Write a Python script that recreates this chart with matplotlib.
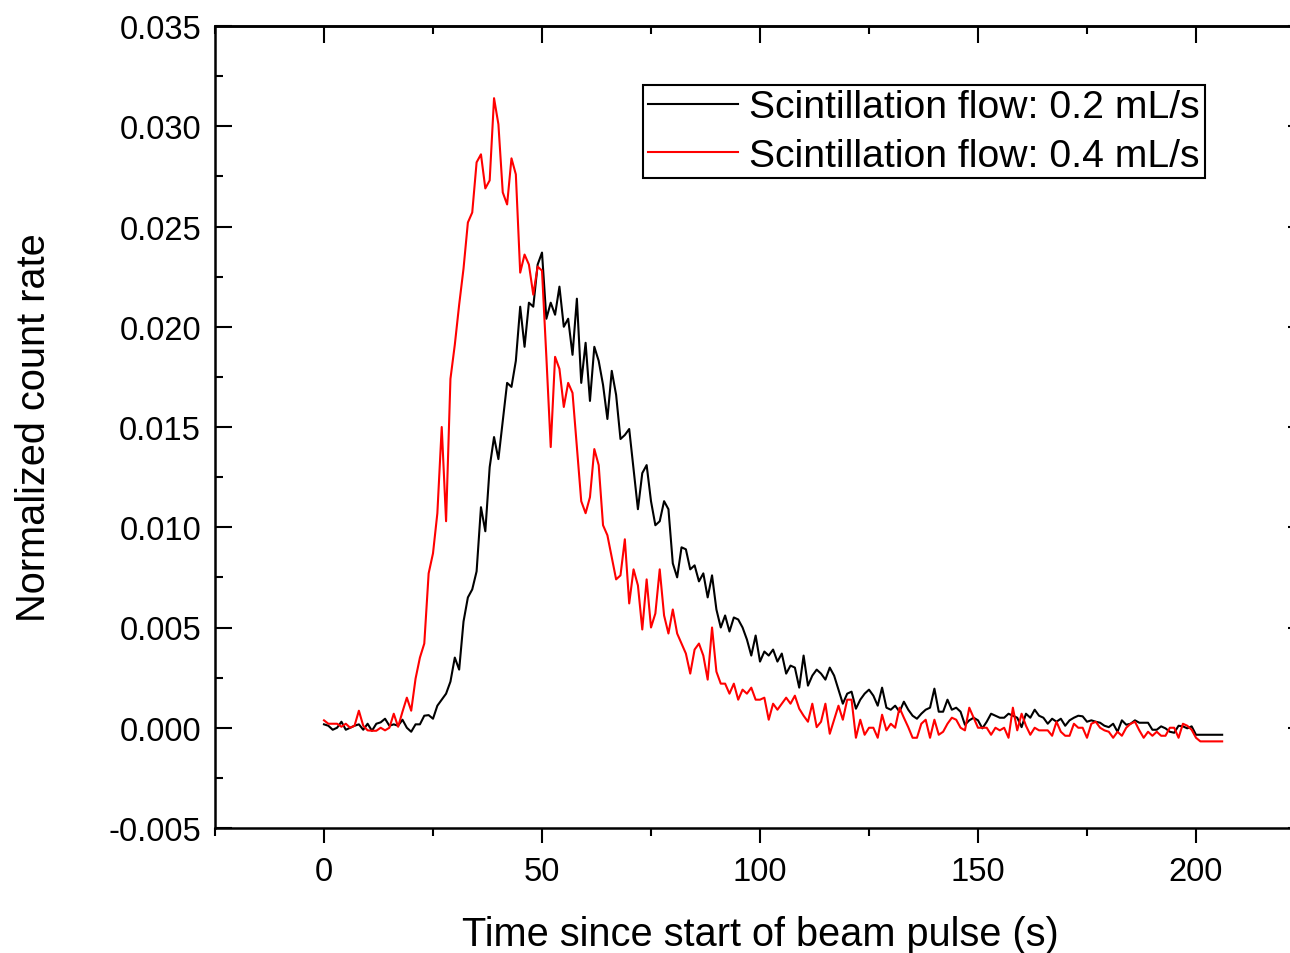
import numpy as np
import matplotlib
matplotlib.use('Agg')
import matplotlib.pyplot as plt
from matplotlib.ticker import MultipleLocator, FormatStrFormatter

plt.rcParams['font.family'] = ['Liberation Sans', 'DejaVu Sans']
plt.rcParams['axes.unicode_minus'] = False

# time axis (s), 1 s steps
time_s = list(range(0, 207))

# scintillation flow 0.2 mL/s (black)
rate_02 = [
    0.00017, 0.0001, -0.0001, 0.0, 0.0003, -0.0001, 0.0, 0.0001, 0.00017, -0.0001,
    0.0002, -0.00015, 0.0002, 0.00027, 0.00045, 0.0001, 0.00017, 0.0001, 0.0004, 0.0,
    -0.0002, 0.00017, 0.00017, 0.0006, 0.00063, 0.00045, 0.0011, 0.0014, 0.0017, 0.0023,
    0.0035, 0.0029, 0.0053, 0.0065, 0.0069, 0.0078, 0.011, 0.0098, 0.013, 0.0145,
    0.0134, 0.0153, 0.0172, 0.017, 0.0183, 0.021, 0.019, 0.0212, 0.021, 0.0231,
    0.0237, 0.0204, 0.0212, 0.0206, 0.022, 0.02, 0.0204, 0.0186, 0.0214, 0.0172,
    0.0192, 0.0163, 0.019, 0.0183, 0.0171, 0.0154, 0.0178, 0.0166, 0.0144, 0.0146,
    0.0149, 0.0129, 0.0109, 0.0127, 0.0131, 0.0113, 0.0101, 0.0103, 0.0113, 0.0109,
    0.0082, 0.0075, 0.009, 0.0089, 0.0079, 0.0081, 0.0073, 0.0077, 0.0065, 0.0076,
    0.0059, 0.005, 0.0056, 0.0048, 0.0055, 0.0054, 0.005, 0.0044, 0.0036, 0.0046,
    0.0033, 0.0038, 0.0036, 0.0039, 0.0033, 0.0037, 0.0027, 0.0031, 0.003, 0.002,
    0.0036, 0.0021, 0.0026, 0.0029, 0.0027, 0.0024, 0.003, 0.0026, 0.0019, 0.0012,
    0.0017, 0.0018, 0.00095, 0.0014, 0.0017, 0.0019, 0.0016, 0.0011, 0.002, 0.001,
    0.0009, 0.0011, 0.0008, 0.0013, 0.0009, 0.0006, 0.00045, 0.0007, 0.0009, 0.001,
    0.00195, 0.0008, 0.0008, 0.0014, 0.0009, 0.001, 0.0008, 0.00015, 0.00037, 0.0005,
    0.00037, -0.00003, 0.0003, 0.0007, 0.0006, 0.0005, 0.0005, 0.0007, 0.0006, 0.0005,
    0.00003, 0.0007, 0.0005, 0.0009, 0.0006, 0.0005, 0.0002, 0.00045, 0.0003, 0.00045,
    0.0001, 0.00037, 0.0005, 0.0006, 0.00057, 0.0003, 0.00037, 0.0003, 0.00025, 0.0001,
    0.00003, 0.0002, -0.0002, 0.00037, 0.00015, 0.0002, 0.00037, 0.00025, 0.00025, 0.00025,
    -0.0001, -0.0001, 0.00007, -0.00003, -0.0002, -0.00025, 0.0001, 0.00007, -0.00003, 0.00007,
    -0.00035, -0.00035, -0.00035, -0.00035, -0.00035, -0.00035, -0.00035,
]

# scintillation flow 0.4 mL/s (red)
rate_04 = [
    0.00037, 0.0002, 0.0002, 0.0002, 0.00005, 0.0002, 0.0, 0.0001, 0.00085, 0.0001,
    -0.00013, -0.00015, -0.00015, 0.0, -0.00013, 0.0, 0.0007, 0.00005, 0.0008, 0.0015,
    0.00085, 0.00245, 0.0035, 0.0042, 0.0077, 0.0087, 0.0107, 0.015, 0.0103, 0.0174,
    0.0191, 0.0211, 0.0229, 0.0252, 0.0257, 0.0282, 0.0286, 0.0269, 0.0273, 0.0314,
    0.0301, 0.0267, 0.0261, 0.0284, 0.0276, 0.0227, 0.0236, 0.0231, 0.0216, 0.023,
    0.0228, 0.0185, 0.014, 0.0185, 0.0179, 0.016, 0.0172, 0.0167, 0.014, 0.0113,
    0.0107, 0.0115, 0.0139, 0.0131, 0.0101, 0.0096, 0.0085, 0.0074, 0.0076, 0.0094,
    0.0062, 0.0079, 0.0071, 0.0049, 0.0074, 0.005, 0.0057, 0.0079, 0.0056, 0.0047,
    0.0059, 0.0047, 0.0042, 0.0037, 0.0027, 0.0039, 0.0042, 0.0036, 0.0024, 0.005,
    0.0028, 0.0022, 0.0022, 0.0017, 0.0022, 0.0014, 0.0019, 0.0017, 0.002, 0.0014,
    0.0014, 0.0015, 0.0004, 0.0012, 0.0009, 0.0012, 0.0015, 0.0012, 0.0016, 0.00095,
    0.0006, 0.0003, 0.0012, 0.00003, 0.0003, 0.0012, -0.0003, 0.0004, 0.0011, 0.0004,
    0.0014, 0.0014, -0.0005, 0.0004, -0.00035, 0.0, 0.0, -0.0005, 0.00065, -0.00013,
    0.0002, 0.0, 0.001, 0.0005, 0.00003, -0.0005, -0.0005, 0.0002, 0.0004, -0.0005,
    0.0004, -0.00035, -0.0002, 0.0002, 0.0005, 0.0004, 0.0, -0.00013, 0.001, 0.0005,
    0.0, 0.0, 0.0, -0.00035, 0.0, -0.00013, 0.0, -0.0005, 0.001, -0.00013,
    0.0007, 0.0001, -0.00035, 0.0, -0.00013, -0.00013, -0.00013, -0.0004, 0.0003, -0.0002,
    -0.0004, -0.0004, 0.0002, 0.0, 0.0, -0.0005, 0.0002, 0.0003, 0.0, -0.00013,
    -0.0002, -0.0005, -0.0002, -0.0004, 0.0, 0.0002, 0.0003, -0.00013, -0.0005, -0.0002,
    -0.0004, -0.0002, -0.0004, -0.0004, 0.0, 0.0, -0.0005, 0.0002, 0.0001, -0.0001,
    -0.0005, -0.00068, -0.00068, -0.00068, -0.00068, -0.00068, -0.00068,
]

labels = ['Scintillation flow: 0.2 mL/s', 'Scintillation flow: 0.4 mL/s']

fig = plt.figure(figsize=(12.9, 9.54), dpi=100)
# right spine sits just past the image edge in the original
ax = fig.add_axes([215 / 1290, 1 - 829 / 954, 1090 / 1290, 802 / 954])

ax.plot(time_s, rate_02, color='black', lw=1.5, label=labels[0])
ax.plot(time_s, rate_04, color='red', lw=1.5, label=labels[1])

ax.set_xlim(-25, 225)
ax.set_ylim(-0.005, 0.035)

ax.xaxis.set_major_locator(MultipleLocator(50))
ax.xaxis.set_minor_locator(MultipleLocator(25))
ax.yaxis.set_major_locator(MultipleLocator(0.005))
ax.yaxis.set_minor_locator(MultipleLocator(0.0025))
ax.yaxis.set_major_formatter(FormatStrFormatter('%.3f'))
ax.set_xticks([0, 50, 100, 150, 200])

for sp in ax.spines.values():
    sp.set_linewidth(1.8)

ax.tick_params(axis='x', which='both', direction='out', width=1.5, labelsize=23.5, pad=9)
ax.tick_params(axis='x', which='major', length=11)
ax.tick_params(axis='x', which='minor', length=6)
ax.tick_params(axis='y', which='both', direction='in', right=True, width=1.5, labelsize=23.5, pad=10)
ax.tick_params(axis='y', which='major', length=12)
ax.tick_params(axis='y', which='minor', length=6)

top = ax.secondary_xaxis('top')
top.xaxis.set_major_locator(MultipleLocator(50))
top.xaxis.set_minor_locator(MultipleLocator(25))
top.tick_params(axis='x', which='both', direction='in', width=1.5, labeltop=False)
top.tick_params(axis='x', which='major', length=12)
top.tick_params(axis='x', which='minor', length=6)
top.spines['top'].set_linewidth(1.8)

ax.set_xlabel('Time since start of beam pulse (s)', fontsize=28.6, labelpad=20)
ax.set_ylabel('Normalized count rate', fontsize=28.6, labelpad=40)

leg = ax.legend(loc='upper right', bbox_to_anchor=(0.908, 0.927), fontsize=28.2,
                frameon=True, fancybox=False, edgecolor='black', framealpha=1,
                borderpad=0.12, borderaxespad=0, handlelength=2.3, handletextpad=0.3,
                labelspacing=0.32)
leg.get_frame().set_linewidth(1.5)

fig.savefig('out.png', dpi=100)
